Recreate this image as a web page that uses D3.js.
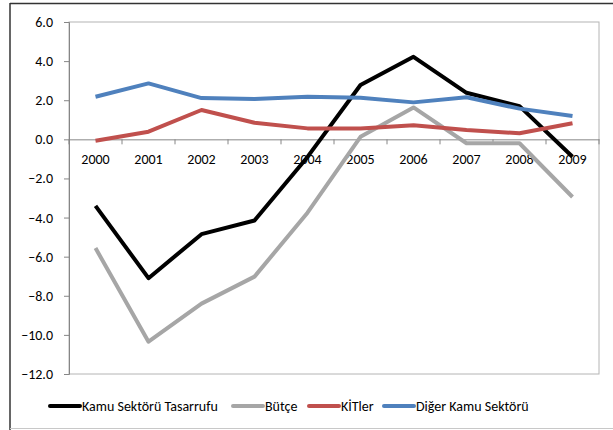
<!DOCTYPE html>
<html>
<head>
<meta charset="utf-8">
<script src="https://cdn.jsdelivr.net/npm/d3@7"></script>
<style>
  body { margin: 0; background: #fff; }
  svg { display: block; }
</style>
</head>
<body>
<div id="chart"></div>
<script>
var years = ["2000","2001","2002","2003","2004","2005","2006","2007","2008","2009"];
var seriesNames = ["Kamu Sektörü Tasarrufu", "Bütçe", "KİTler", "Diğer Kamu Sektörü"];
var kamu   = [-3.4, -7.1, -4.85, -4.15, -0.9, 2.78, 4.22, 2.38, 1.7, -0.89];
var butce  = [-5.56, -10.35, -8.4, -7.02, -3.75, 0.13, 1.63, -0.2, -0.2, -2.95];
var kitler = [-0.07, 0.39, 1.5, 0.85, 0.56, 0.56, 0.72, 0.48, 0.31, 0.82];
var diger  = [2.18, 2.86, 2.11, 2.06, 2.18, 2.13, 1.89, 2.15, 1.57, 1.19];
var yTicks = [6, 4, 2, 0, -2, -4, -6, -8, -10, -12];
var colors = ["#000000", "#a6a6a6", "#c0504d", "#4f81bd"];

var width = 613, height = 430;
var plotLeft = 69, plotRight = 599, plotTop = 22, plotBottom = 374;
var font = "Carlito, Lato, 'Liberation Sans', sans-serif";
var fontSize = 14;

var svg = d3.select("#chart").append("svg")
    .attr("width", width)
    .attr("height", height)
    .attr("font-family", font)
    .attr("font-size", fontSize);

// outer frame
svg.append("line").attr("x1", 10).attr("x2", width).attr("y1", 3.5).attr("y2", 3.5)
    .attr("stroke", "#333").attr("stroke-width", 1.5);
svg.append("line").attr("x1", 10).attr("x2", 10).attr("y1", 3).attr("y2", height)
    .attr("stroke", "#333").attr("stroke-width", 1.5);
svg.append("line").attr("x1", 10).attr("x2", width).attr("y1", 428.5).attr("y2", 428.5)
    .attr("stroke", "#c8c8c8").attr("stroke-width", 1);

var x = d3.scaleBand().domain(years).range([plotLeft, plotRight]);
var y = d3.scaleLinear().domain([-12, 6]).range([plotBottom, plotTop]);

// plot area border
svg.append("rect")
    .attr("x", plotLeft).attr("y", plotTop)
    .attr("width", plotRight - plotLeft).attr("height", plotBottom - plotTop)
    .attr("fill", "none").attr("stroke", "#b4b4b4").attr("stroke-width", 1);

// y axis
var yAxis = svg.append("g")
    .attr("transform", "translate(" + plotLeft + ",0)")
    .call(d3.axisLeft(y).tickValues(yTicks).tickSize(5).tickPadding(11).tickFormat(d3.format(".1f")));
yAxis.select(".domain").attr("stroke", "#868686");
yAxis.selectAll(".tick line").attr("stroke", "#868686");
yAxis.selectAll("text").attr("fill", "#000").attr("font-size", fontSize).attr("font-family", font);

// x axis at zero
var xAxis = svg.append("g")
    .attr("transform", "translate(0," + y(0) + ")")
    .call(d3.axisBottom(x).tickSize(0).tickPadding(15));
xAxis.select(".domain").attr("stroke", "#868686");
xAxis.selectAll("text").attr("fill", "#000").attr("font-size", fontSize).attr("font-family", font);
xAxis.selectAll(".sep")
    .data(d3.range(years.length + 1))
    .enter().append("line")
      .attr("x1", function(i) { return plotLeft + i * x.step(); })
      .attr("x2", function(i) { return plotLeft + i * x.step(); })
      .attr("y1", 0).attr("y2", 5)
      .attr("stroke", "#868686");

var line = d3.line()
    .x(function(d, i) { return x(years[i]) + x.bandwidth() / 2; })
    .y(function(d) { return y(d); });

var allSeries = [kamu, butce, kitler, diger];
allSeries.forEach(function(s, i) {
  svg.append("path")
      .datum(s)
      .attr("d", line)
      .attr("fill", "none")
      .attr("stroke", colors[i])
      .attr("stroke-width", 4)
      .attr("stroke-linejoin", "round");
});

// legend
var legendX = [50, 233, 309, 384];
var legend = svg.selectAll(".legend")
    .data(seriesNames)
    .enter().append("g")
      .attr("class", "legend")
      .attr("transform", function(d, i) { return "translate(" + legendX[i] + ",406)"; });
legend.append("line")
    .attr("x1", 0).attr("x2", 30)
    .attr("stroke", function(d, i) { return colors[i]; })
    .attr("stroke-width", 4)
    .attr("stroke-linecap", "round");
legend.append("text")
    .attr("x", 32)
    .attr("dy", "0.35em")
    .attr("fill", "#000")
    .text(function(d) { return d; });
</script>
</body>
</html>
